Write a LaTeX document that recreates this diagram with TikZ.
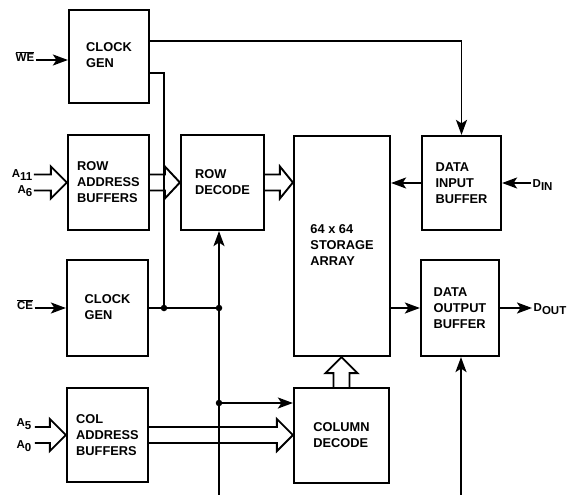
\documentclass[tikz,border=0pt]{standalone}
\usepackage{fontspec}
\setmainfont{Liberation Sans}
\usetikzlibrary{arrows.meta,calc}
\tikzset{
 blk/.style={draw, line width=2.2pt, inner sep=0pt, align=left, font=\fontsize{12.8}{16}\selectfont\bfseries},
 wire/.style={line width=1.8pt},
 arr/.style={wire, -{Stealth[length=15pt,width=11pt,inset=3.5pt]}},
 bus/.style={line width=1.9pt, line join=miter},
 lbl/.style={inner sep=1.5pt, font=\fontsize{11.5}{13}\selectfont\bfseries},
 jdot/.style={circle, fill, inner sep=0pt, minimum size=6.5pt},
}
\newcommand\sub[1]{\raisebox{-3.5pt}{#1}}
\newcommand\lowtext[1]{\raisebox{-3pt}{\begin{tabular}{@{}l@{}}#1\end{tabular}}}
% horizontal bus arrow: #1 start point (x used), #2 tip point, #3 head length
\newcommand\hbus[3]{%
 \draw[bus] let \p1=#1, \p2=#2 in
 (\x1,\y2+8pt) -- (\x2-#3,\y2+8pt) -- (\x2-#3,\y2+16pt) -- (\x2,\y2)
 -- (\x2-#3,\y2-16pt) -- (\x2-#3,\y2-8pt) -- (\x1,\y2-8pt);}
\begin{document}
\begin{tikzpicture}[x=1pt,y=-1pt]
\useasboundingbox[fill=white] (0,0) rectangle (573,495);
% blocks
\node[blk, minimum width=80pt, minimum height=93pt] (cg1) at (109,56.5) {\lowtext{CLOCK\\GEN}};
\node[blk, minimum width=81pt, minimum height=95pt] (rab) at (108.5,182.5) {ROW\\ADDRESS\\BUFFERS};
\node[blk, minimum width=83pt, minimum height=95pt] (rd) at (222.5,182.5) {ROW\\DECODE};
\node[blk, minimum width=81pt, minimum height=96pt] (cg2) at (107.5,308) {\lowtext{CLOCK\\GEN}};
\node[blk, minimum width=81pt, minimum height=94pt] (cab) at (107.5,435) {COL\\ADDRESS\\BUFFERS};
\node[blk, minimum width=96pt, minimum height=220pt] (sa) at (342,246) {\lowtext{64 x 64\\STORAGE\\ARRAY}};
\node[blk, minimum width=79pt, minimum height=94pt] (dib) at (461.5,183) {DATA\\INPUT\\BUFFER};
\node[blk, minimum width=78pt, minimum height=96pt] (dob) at (460,308) {DATA\\OUTPUT\\BUFFER};
\node[blk, minimum width=95pt, minimum height=95pt] (cd) at (341.5,435.5) {COLUMN\\DECODE};
% labels
\node[lbl] (we) at (25,57) {\ensuremath{\overline{\mbox{WE}}}};
\node[lbl] (ce) at (25,305) {\ensuremath{\overline{\mbox{CE}}}};
\node[lbl, anchor=east] (a11) at (34,175) {A\sub{11}};
\node[lbl, anchor=east] (a6) at (34,191) {A\sub{6}};
\node[lbl, anchor=east] (a5) at (33,424) {A\sub{5}};
\node[lbl, anchor=east] (a0) at (33,446) {A\sub{0}};
\node[lbl, anchor=west] (din) at (531,185) {D\sub{IN}};
\node[lbl, anchor=west] (dout) at (532,309) {D\sub{OUT}};
% junctions and free ends
\coordinate (j1) at (164,308);
\coordinate (j2) at (219,308);
\coordinate (j3) at (219,403);
\coordinate (b1) at (219,495);
\coordinate (b2) at (461,495);
% wires
\draw[arr] (we.east |- 0,60) -- (cg1.west |- 0,60);
\draw[arr] (ce.east |- 0,308) -- (cg2.west |- 0,308);
\draw[arr] (cg1.east |- 0,41) -| (dib.north);
\draw[wire] (cg1.east |- 0,73) -| (j1);
\draw[wire] (cg2.east |- j1) -- (j2);
\draw[arr] (b1) -- (b1 |- rd.south);
\draw[arr] (j3) -- (j3 -| cd.west);
\draw[arr] (dib.west) -- (dib.west -| sa.east);
\draw[arr] (din.west |- 0,183) -- (dib.east |- 0,183);
\draw[arr] (dob.west -| sa.east) -- (dob.west);
\draw[arr] (dob.east) -- (dout.west |- dob.east);
\draw[arr] (b2) -- (b2 |- dob.south);
\node[jdot] at (j1) {};
\node[jdot] at (j2) {};
\node[jdot] at (j3) {};
% buses
\hbus{($(rab.west)+(-33,0)$)}{(rab.west)}{16pt}
\hbus{(rab.east)}{(rd.west)}{15pt}
\hbus{(rd.east)}{(rd.east -| sa.west)}{13pt}
\hbus{($(cab.west)+(-31,0)$)}{(cab.west)}{16pt}
\hbus{(cab.east)}{(cab.east -| cd.west)}{16pt}
\draw[bus] let \p1=(cd.north), \p2=(sa.south) in
 (\x1-8pt,\y1) -- (\x1-8pt,\y2-16pt) -- (\x1-16pt,\y2-16pt) -- (\x1,\y2)
 -- (\x1+16pt,\y2-16pt) -- (\x1+8pt,\y2-16pt) -- (\x1+8pt,\y1);
\end{tikzpicture}
\end{document}
